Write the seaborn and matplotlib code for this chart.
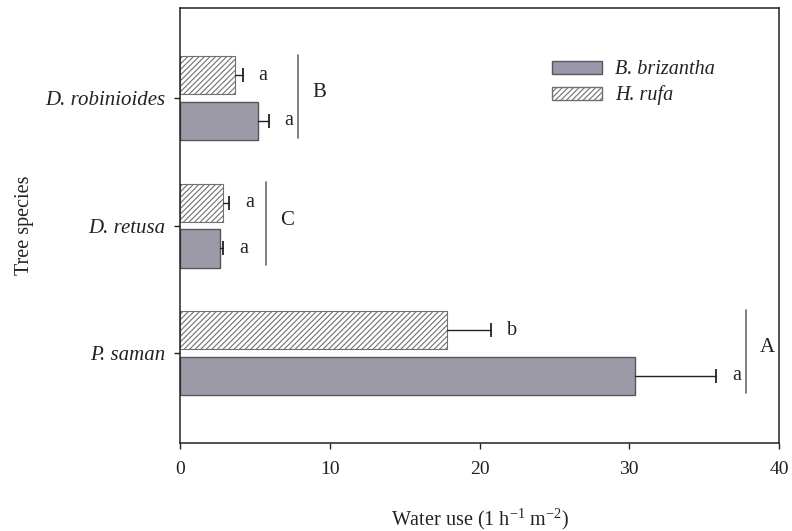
import pandas as pd
import seaborn as sns
import matplotlib.pyplot as plt
from matplotlib.patches import Patch

# Data
species = ['D. robinioides', 'D. retusa', 'P. saman']
grasses = ['H. rufa', 'B. brizantha']
h_rufa = [3.67, 2.87, 17.8]
h_rufa_err = [0.53, 0.40, 3.0]
b_brizantha = [5.2, 2.67, 30.4]
b_brizantha_err = [0.73, 0.20, 5.4]
letters_h = ['a', 'a', 'b']
letters_b = ['a', 'a', 'a']
group_letters = ['B', 'C', 'A']
bracket_x = [7.87, 5.73, 37.8]

df = pd.DataFrame({
    'Species': species * 2,
    'Grass': ['H. rufa'] * 3 + ['B. brizantha'] * 3,
    'Water': h_rufa + b_brizantha,
})

sns.set_style('ticks')
plt.rcParams['font.family'] = ['Liberation Serif', 'DejaVu Serif']
plt.rcParams['mathtext.fontset'] = 'custom'
plt.rcParams['mathtext.rm'] = 'Liberation Serif'
plt.rcParams['hatch.color'] = '#707070'
plt.rcParams['hatch.linewidth'] = 0.8

fig = plt.figure(figsize=(7.92, 5.31), dpi=100)
ax = fig.add_axes([0.2273, 0.1657, 0.7563, 0.8192])

fill = {'B. brizantha': '#9998a8', 'H. rufa': 'white'}
sns.barplot(data=df, y='Species', x='Water', hue='Grass', order=species,
            hue_order=grasses, palette=fill, orient='h', width=0.72, gap=0.17,
            legend=False, ax=ax, errorbar=None)

# hatch H. rufa and style edges
for rect in ax.containers[0]:
    rect.set_hatch('//////')
    rect.set_edgecolor('#707070')
    rect.set_linewidth(0.8)
for rect in ax.containers[1]:
    rect.set_edgecolor('#555560')
    rect.set_linewidth(1.0)

# one-sided error bars (cap only at the outer end) and letters
for cont, errs, lets in [(ax.containers[0], h_rufa_err, letters_h),
                         (ax.containers[1], b_brizantha_err, letters_b)]:
    for rect, e, lt in zip(cont, errs, lets):
        yc = rect.get_y() + rect.get_height() / 2
        w = rect.get_width()
        ax.plot([w, w + e], [yc, yc], color='#222222', lw=1.0)
        ax.plot([w + e], [yc], marker='|', ms=10, mew=1.3, color='#222222')
        ax.text(w + e + 1.35, yc, lt, ha='center', va='center', fontsize=14.5,
                color='#222222')

for i, (bx, gl) in enumerate(zip(bracket_x, group_letters)):
    ax.plot([bx, bx], [i - 0.34, i + 0.31], color='#777777', lw=1.3)
    ax.text(bx + 1.4, i - 0.04, gl, ha='center', va='center', fontsize=15,
            color='#222222')

ax.set_xlim(0, 40)
ax.set_ylim(2.706, -0.706)
ax.set_xticks([0, 10, 20, 30, 40])
ax.tick_params(axis='both', direction='out', length=4.3, width=1.0,
               colors='#222222', labelsize=14)
ax.tick_params(axis='x', pad=9)
ax.tick_params(axis='y', pad=6.5, labelsize=15)
for lab in ax.get_yticklabels():
    lab.set_fontstyle('italic')

for sp in ax.spines.values():
    sp.set_visible(True)
    sp.set_linewidth(1.1)
    sp.set_color('#222222')

ax.set_xlabel('Water use (1 h$^{\\mathregular{-1}}$ m$^{\\mathregular{-2}}$)', fontsize=14.5,
              labelpad=20, color='#222222')
ax.set_ylabel('Tree species', fontsize=14.5, labelpad=8, color='#222222')

handles = [Patch(facecolor=fill['B. brizantha'], edgecolor='#555560', label='B. brizantha'),
           Patch(facecolor='white', edgecolor='#707070', hatch='//////', label='H. rufa')]
leg = ax.legend(handles=handles, loc='upper left', bbox_to_anchor=(0.605, 0.903),
                frameon=False, borderpad=0, handlelength=2.45, handleheight=0.6,
                labelspacing=0.3, handletextpad=0.65,
                prop={'family': 'Liberation Serif', 'style': 'italic', 'size': 14.5})
for t in leg.get_texts():
    t.set_color('#222222')

fig.savefig('out.png', dpi=100)
